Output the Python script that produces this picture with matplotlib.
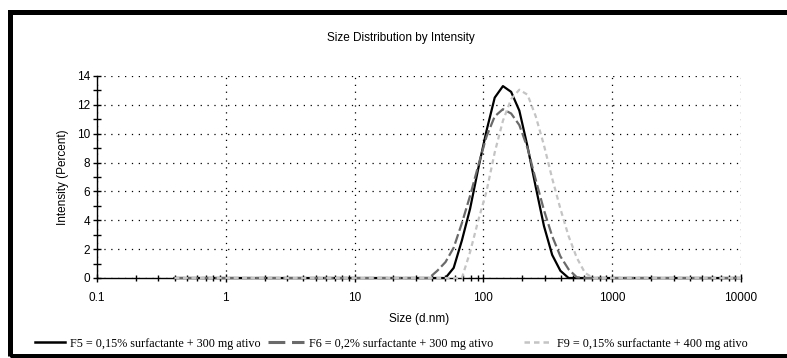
import matplotlib
matplotlib.use("Agg")
import matplotlib.pyplot as plt
from matplotlib.lines import Line2D
from matplotlib.patches import Rectangle
from matplotlib.ticker import FixedLocator, NullFormatter

# Size bins (d.nm)
sizes = [0.4, 0.4632, 0.5365, 0.6213, 0.7195, 0.8332, 0.9649, 1.117, 1.294, 1.499,
         1.736, 2.010, 2.328, 2.696, 3.122, 3.615, 4.187, 4.849, 5.615, 6.503,
         7.531, 8.721, 10.10, 11.70, 13.54, 15.69, 18.17, 21.04, 24.36, 28.21,
         32.67, 37.84, 43.82, 50.75, 58.77, 68.06, 78.82, 91.28, 105.7, 122.4,
         141.8, 164.2, 190.1, 220.2, 255.0, 295.3, 342.0, 396.1, 458.7, 531.2,
         615.1, 712.4, 825.0, 955.4, 1106, 1281, 1484, 1718, 1990, 2305,
         2669, 3091, 3580, 4145, 4801, 5560, 6439, 7456, 8635, 10000]

f5 = [0, 0, 0, 0, 0, 0, 0, 0, 0, 0,
      0, 0, 0, 0, 0, 0, 0, 0, 0, 0,
      0, 0, 0, 0, 0, 0, 0, 0, 0, 0,
      0, 0, 0, 0.0, 0.7, 2.6, 4.8, 7.6, 10.2, 12.5,
      13.3, 12.9, 11.6, 9.1, 6.3, 3.6, 1.6, 0.5, 0.0, 0,
      0, 0, 0, 0, 0, 0, 0, 0, 0, 0,
      0, 0, 0, 0, 0, 0, 0, 0, 0, 0]

f6 = [0, 0, 0, 0, 0, 0, 0, 0, 0, 0,
      0, 0, 0, 0, 0, 0, 0, 0, 0, 0,
      0, 0, 0, 0, 0, 0, 0, 0, 0, 0,
      0, 0, 0.5, 1.1, 2.1, 3.8, 5.7, 7.8, 9.8, 11.2,
      11.7, 11.4, 10.6, 9.0, 6.8, 4.7, 2.9, 1.5, 0.6, 0.05,
      0, 0, 0, 0, 0, 0, 0, 0, 0, 0,
      0, 0, 0, 0, 0, 0, 0, 0, 0, 0]

f9 = [0, 0, 0, 0, 0, 0, 0, 0, 0, 0,
      0, 0, 0, 0, 0, 0, 0, 0, 0, 0,
      0, 0, 0, 0, 0, 0, 0, 0, 0, 0,
      0, 0, 0, 0, 0, 0.0, 1.8, 4.0, 6.0, 8.7,
      10.9, 12.4, 13.05, 12.7, 11.2, 9.2, 6.9, 4.8, 2.9, 1.4,
      0.35, 0.0, 0, 0, 0, 0, 0, 0, 0, 0,
      0, 0, 0, 0, 0, 0, 0, 0, 0, 0]

labels = ["F5 = 0,15% surfactante + 300 mg ativo",
          "F6 = 0,2% surfactante + 300 mg ativo",
          "F9 = 0,15% surfactante + 400 mg ativo"]

xticks = [0.1, 1, 10, 100, 1000, 10000]
xticklabels = ["0.1", "1", "10", "100", "1000", "10000"]
yticks = [0, 2, 4, 6, 8, 10, 12, 14]

W, H = 787, 358
fig = plt.figure(figsize=(W / 100, H / 100), dpi=100)
fig.patch.set_facecolor("white")

ax = fig.add_axes([97 / W, 1 - 278 / H, (741 - 97) / W, (278 - 76) / H])
ax.set_xscale("log")
ax.set_xlim(0.1, 10000)
ax.set_ylim(0, 14)

c9 = "#c4c4c4"
c6 = "#6a6a6a"
l5, = ax.plot(sizes, f5, color="black", lw=1.6, zorder=3, clip_on=False)
l6, = ax.plot(sizes, f6, color=c6, lw=1.6, dashes=(4.5, 1.6), zorder=4, clip_on=False)
l9, = ax.plot(sizes, f9, color=c9, lw=1.6, dashes=(2.2, 1.6), zorder=5, clip_on=False)

for s in ["top", "right"]:
    ax.spines[s].set_visible(False)
for s in ["left", "bottom"]:
    ax.spines[s].set_linewidth(1.0)
    ax.spines[s].set_zorder(2)

ax.set_xticks(xticks)
ax.set_xticklabels(xticklabels)
minor = [m * 10.0 ** e for e in range(-1, 4) for m in range(2, 10)]
ax.xaxis.set_minor_locator(FixedLocator(minor))
ax.xaxis.set_minor_formatter(NullFormatter())
ax.set_yticks(yticks)
ax.yaxis.set_minor_locator(FixedLocator([1, 3, 5, 7, 9, 11, 13]))

for lab in ax.get_xticklabels() + ax.get_yticklabels():
    lab.set_fontfamily("Liberation Sans")
    lab.set_fontsize(8.5)
ax.tick_params(axis="both", which="both", direction="inout", length=6, width=1, colors="black")
ax.tick_params(axis="x", which="minor", length=5)
ax.tick_params(axis="x", which="major", pad=7)
ax.tick_params(axis="y", which="major", pad=2)

ax.grid(True, which="major", color="black", lw=0.9, linestyle=(0, (1, 4.5)))

fig.text(401 / W, 1 - 38 / H, "Size Distribution by Intensity", ha="center", va="center",
         fontsize=8.5, family="Liberation Sans")
fig.text(419 / W, 1 - 319 / H, "Size (d.nm)", ha="center", va="center",
         fontsize=8.5, family="Liberation Sans")
fig.text(63 / W, 1 - 177 / H, "Intensity (Percent)", ha="center", va="center",
         rotation=90, fontsize=8.5, family="Liberation Sans")

# legend handles (three separately placed entries)
h5 = Line2D([], [], color="black", lw=1.8)
h6 = Line2D([], [], color=c6, lw=2.2, dashes=(5.5, 2.2))
h9 = Line2D([], [], color=c9, lw=1.8, dashes=(2.2, 1.6))
legprop = dict(family="Liberation Serif", size=8.7)
for h, lab, x0, hl in [(h5, labels[0], 35, 30), (h6, labels[1], 268, 36), (h9, labels[2], 524, 28)]:
    lg = fig.legend([h], [lab], loc="center left", bbox_to_anchor=(x0 / W, 1 - 343.5 / H),
                    frameon=False, borderpad=0, borderaxespad=0,
                    handlelength=hl * 0.72 / 8.7, handletextpad=0.4, prop=legprop)

# outer frame
fig.patches.append(Rectangle((9.5 / W, 1 - 355.5 / H), 900 / W, (355.5 - 11.5) / H,
                             transform=fig.transFigure, fill=False, edgecolor="black",
                             lw=3.6, zorder=0))

fig.savefig("out.png", dpi=100)
